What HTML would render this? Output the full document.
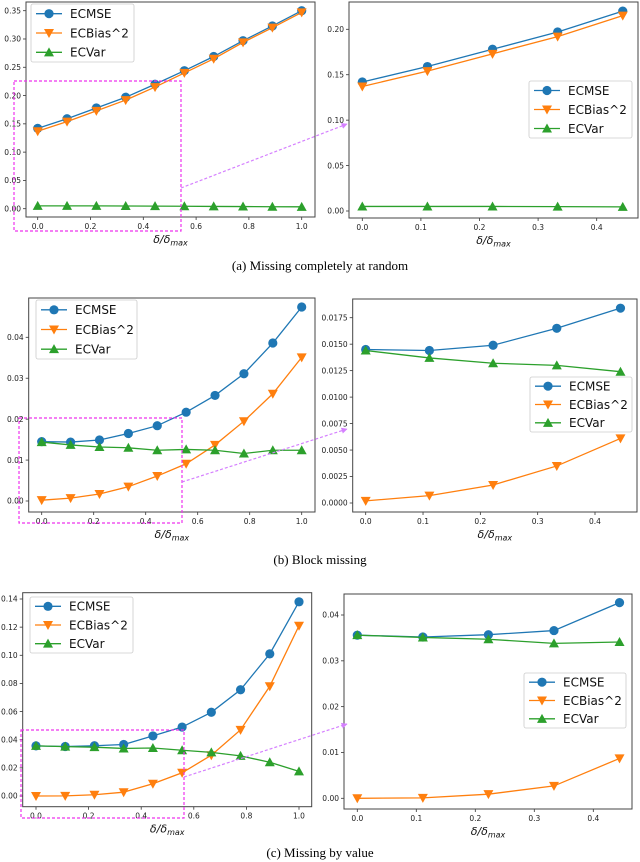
<!DOCTYPE html>
<html><head><meta charset="utf-8"><style>
html,body{margin:0;padding:0;background:#fff}
svg{display:block}
</style></head><body>
<svg id="fig" width="640" height="862" viewBox="0 0 640 862" xmlns="http://www.w3.org/2000/svg" font-family="'DejaVu Sans','Liberation Sans',sans-serif">
<defs>
<marker id="arr" viewBox="0 0 10 10" refX="9" refY="5" markerWidth="5" markerHeight="5" orient="auto"><path d="M0,0 L10,5 L0,10 z" fill="#d580ff"/></marker>
</defs>
<text x="320" y="270" text-anchor="middle" font-family="'Liberation Serif',serif" font-size="13">(a)  Missing completely at random</text>
<text x="320" y="564" text-anchor="middle" font-family="'Liberation Serif',serif" font-size="13">(b)  Block missing</text>
<text x="320" y="857" text-anchor="middle" font-family="'Liberation Serif',serif" font-size="13">(c)  Missing by value</text>
</svg>
<script>
const xValues = [0, 1/9, 2/9, 3/9, 4/9, 5/9, 6/9, 7/9, 8/9, 1];
const seriesNames = ["ECMSE", "ECBias^2", "ECVar"];
const aMSE  = [0.142,0.159,0.178,0.197,0.220,0.244,0.269,0.297,0.323,0.350];
const aBias = [0.137,0.154,0.173,0.192,0.215,0.240,0.265,0.294,0.320,0.347];
const aVar  = [0.005,0.005,0.005,0.0048,0.0045,0.0043,0.004,0.0038,0.0035,0.0033];
const bMSE  = [0.0145,0.0144,0.0149,0.0165,0.0184,0.0217,0.0258,0.0311,0.0386,0.0474];
const bBias = [0.0002,0.0007,0.0017,0.0035,0.0061,0.0091,0.0137,0.0195,0.0262,0.0351];
const bVar  = [0.0144,0.0137,0.0132,0.0130,0.0124,0.0126,0.0124,0.0116,0.0124,0.0124];
const cMSE  = [0.0356,0.0352,0.0357,0.0366,0.0427,0.049,0.0595,0.0755,0.101,0.138];
const cBias = [0.0,0.0001,0.0009,0.0027,0.0087,0.0165,0.029,0.047,0.078,0.121];
const cVar  = [0.0356,0.0351,0.0347,0.0338,0.0341,0.0325,0.031,0.0285,0.024,0.0175];
const xTicksFull = [0,0.2,0.4,0.6,0.8,1.0];
const xTicksZoom = [0,0.1,0.2,0.3,0.4];
const yTicksAL = [0,0.05,0.10,0.15,0.20,0.25,0.30,0.35];
const yTicksAR = [0,0.05,0.10,0.15,0.20];
const yTicksBL = [0,0.01,0.02,0.03,0.04];
const yTicksBR = [0,0.0025,0.005,0.0075,0.01,0.0125,0.015,0.0175];
const yTicksCL = [0,0.02,0.04,0.06,0.08,0.10,0.12,0.14];
const yTicksCR = [0,0.01,0.02,0.03,0.04];

const NS="http://www.w3.org/2000/svg";
const svg=document.getElementById('fig');
const colors=["#1f77b4","#ff7f0e","#2ca02c"];
function mk(tag,attrs,parent){const e=document.createElementNS(NS,tag);for(const k in attrs)e.setAttribute(k,attrs[k]);(parent||svg).appendChild(e);return e;}
function marker(g,i,x,y,c){
  let m;
  if(i===0){m=mk('circle',{cx:x,cy:y,r:4.6,fill:c},g);}
  else if(i===1){m=mk('polygon',{points:`${x-5},${y-4} ${x+5},${y-4} ${x},${y+5}`,fill:c},g);}
  else {m=mk('polygon',{points:`${x-5},${y+4} ${x+5},${y+4} ${x},${y-5}`,fill:c},g);}
  
  
}
function panel(id,box,xr,yr,xt,xdec,yt,ydec,series,n,leg){
  const g=mk('g',{});
  
  
  const X=v=>xr[1]+(v-xr[0])*(xr[3]-xr[1])/(xr[2]-xr[0]);
  const Y=v=>yr[1]+(v-yr[0])*(yr[3]-yr[1])/(yr[2]-yr[0]);
  xt.forEach(v=>{const x=X(v);
    mk('line',{x1:x,x2:x,y1:box[3],y2:box[3]+3,stroke:'#333','stroke-width':0.8},g);
    const t=mk('text',{x:x,y:box[3]+12,'text-anchor':'middle','font-size':7.5,fill:'#222'},g);t.textContent=v.toFixed(xdec);
    });
  yt.forEach(v=>{const y=Y(v);
    mk('line',{x1:box[0]-3,x2:box[0],y1:y,y2:y,stroke:'#333','stroke-width':0.8},g);
    const t=mk('text',{x:box[0]-5,y:y+2.7,'text-anchor':'end','font-size':7.5,fill:'#222'},g);t.textContent=v.toFixed(ydec);
    });
  series.forEach((s,i)=>{
    const pts=s.slice(0,n).map((v,j)=>X(xValues[j])+','+Y(v)).join(' ');
    const l=mk('polyline',{points:pts,fill:'none',stroke:colors[i],'stroke-width':1.3},g);
    
    
    s.slice(0,n).forEach((v,j)=>marker(g,i,X(xValues[j]),Y(v),colors[i]));
  });
  const r=mk('rect',{x:box[0],y:box[1],width:box[2]-box[0],height:box[3]-box[1],fill:'none',stroke:'#444','stroke-width':1},g);
  
  const lg=mk('g',{},g);
  
  
  mk('rect',{x:leg[0],y:leg[1],width:leg[2]-leg[0],height:leg[3]-leg[1],rx:2,fill:'#fff','fill-opacity':0.85,stroke:'#ccc','stroke-width':0.8},lg);
  const rh=(leg[3]-leg[1])/3;
  seriesNames.forEach((nm,i)=>{const cy=leg[1]+rh*(i+0.5);
    mk('line',{x1:leg[0]+5,x2:leg[0]+31,y1:cy,y2:cy,stroke:colors[i],'stroke-width':1.3},lg);
    marker(lg,i,leg[0]+18,cy,colors[i]);
    const t=mk('text',{x:leg[0]+39,y:cy+4.3,'font-size':12,fill:'#111'},lg);t.textContent=nm;
    });
  const xl=mk('text',{x:(box[0]+box[2])/2,y:box[3]+26,'text-anchor':'middle','font-size':11,'font-style':'italic',fill:'#111'},g);
  
  xl.innerHTML='δ/δ<tspan font-size="8" dy="2.5">max</tspan>';
}
function zoomBox(id,r,l){
  const g=mk('g',{});
  
  
  mk('rect',{x:r[0],y:r[1],width:r[2]-r[0],height:r[3]-r[1],fill:'none',stroke:'#ee33ee','stroke-width':1.2,'stroke-dasharray':'3,2'},g);
  mk('line',{x1:l[0],y1:l[1],x2:l[2],y2:l[3],stroke:'#d580ff','stroke-width':1.2,'stroke-dasharray':'3,2','marker-end':'url(#arr)'},g);
}
panel('plot-a-full',[26,2,315,217],[0,37.7,1,301.7],[0,208.7,0.35,10.7],xTicksFull,1,yTicksAL,2,[aMSE,aBias,aVar],10,[31,4,134,62]);
panel('plot-a-zoom',[349,2,638,218],[0,362.3,0.4,596.7],[0,211,0.2,29.3],xTicksZoom,1,yTicksAR,2,[aMSE,aBias,aVar],5,[529,81,632,138]);
panel('plot-b-full',[28.7,298,315,512],[0,41.7,1,301.7],[0,501,0.04,337.3],xTicksFull,1,yTicksBL,2,[bMSE,bBias,bVar],10,[36,300,137,359]);
panel('plot-b-zoom',[352.7,299,637,512],[0,365.7,0.4,595],[0,503,0.0175,317.7],xTicksZoom,1,yTicksBR,4,[bMSE,bBias,bVar],5,[530,377,632,432]);
panel('plot-c-full',[22.7,592.7,311.7,806.7],[0,36,1,299],[0,796,0.14,599],xTicksFull,1,yTicksCL,2,[cMSE,cBias,cVar],10,[30,597,133,653]);
panel('plot-c-zoom',[344,594,632,809],[0,357.3,0.4,593.3],[0,798.3,0.04,615],xTicksZoom,1,yTicksCR,2,[cMSE,cBias,cVar],5,[524,673,626,728]);
zoomBox('zoom-region-a',[14,81,181,231],[181,188,347,124]);
zoomBox('zoom-region-b',[19,418,182,523],[182,482,347,429]);
zoomBox('zoom-region-c',[21,730,184,818],[184,777,347,724]);
</script>
</body></html>
